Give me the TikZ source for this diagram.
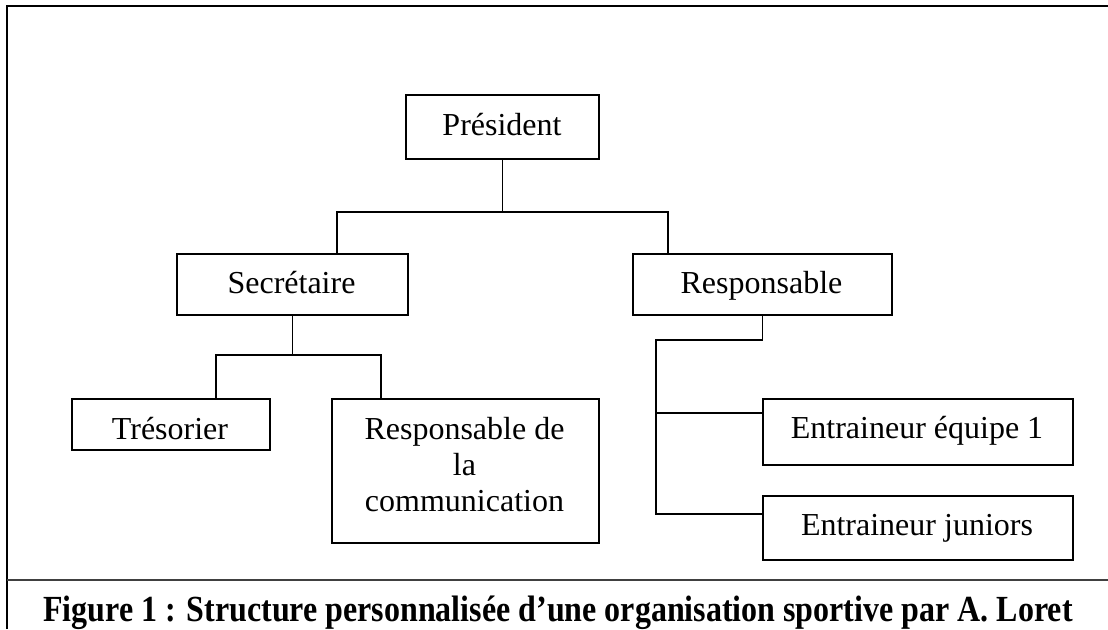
\documentclass[tikz,border=0pt]{standalone}
\usepackage{fontspec}
\usepackage{graphicx}
\setmainfont{Liberation Serif}
\tikzset{
  box/.style={draw=black, line width=1.5pt, rectangle, inner sep=0pt},
  txt/.style={inner sep=0pt, anchor=base, font=\fontsize{32}{36}\selectfont},
  conn/.style={draw=black, line width=1.4pt},
  frame/.style={draw=black, line width=2.2pt},
  sep/.style={draw=black!75, line width=1.3pt}
}
\begin{document}
\begin{tikzpicture}[x=1pt,y=-1pt]
\useasboundingbox (0,0) rectangle (1108,629);
% frame
\draw[frame] (7,629) -- (7,6) -- (1108,6);
\draw[sep] (7,580) -- (1108,580);
% boxes
\node[box, anchor=north west, minimum width=193pt, minimum height=64pt] (pres) at (405,94) {};
\node[box, anchor=north west, minimum width=231pt, minimum height=61pt] (sec) at (176,253) {};
\node[box, anchor=north west, minimum width=259pt, minimum height=61pt] (resp) at (632,253) {};
\node[box, anchor=north west, minimum width=198pt, minimum height=51pt] (tres) at (71,398) {};
\node[box, anchor=north west, minimum width=267pt, minimum height=144pt] (comm) at (331,398) {};
\node[box, anchor=north west, minimum width=310pt, minimum height=66pt] (eq) at (762,398) {};
\node[box, anchor=north west, minimum width=310pt, minimum height=64pt] (jun) at (762,495) {};
% texts
\node[txt] (pres-t) at (502,135) {Président};
\node[txt] (sec-t) at (291.5,293) {Secrétaire};
\node[txt] (resp-t) at (761.5,293) {Responsable};
\node[txt] (tres-t) at (170,439) {Trésorier};
\node[txt] (comm-t1) at (464.5,439) {Responsable de};
\node[txt] (comm-t2) at (464.5,475.3) {la};
\node[txt] (comm-t3) at (464.5,511.7) {communication};
\node[txt] (eq-t) at (917,438) {Entraineur équipe 1};
\node[txt] (jun-t) at (917,535) {Entraineur juniors};
% connectors
\coordinate (p1) at (337,212);
\coordinate (p2) at (668,212);
\draw[conn] (pres.south) -- (pres.south |- p1);
\draw[conn] (sec.north -| p1) |- (p2) -- (resp.north -| p2);
\coordinate (s1) at (216,355);
\coordinate (s2) at (381,355);
\draw[conn] (sec.south) -- (sec.south |- s1);
\draw[conn] (tres.north -| s1) |- (s2) -- (comm.north -| s2);
\coordinate (r1) at (656,340);
\coordinate (r2) at (656,514);
\coordinate (r3) at (656,413);
\draw[conn] (resp.south) |- (r1) -- (r2) -- (r2 -| jun.west);
\draw[conn] (r3) -- (r3 -| eq.west);
% caption
\node[inner sep=0pt, anchor=base] (cap) at (558,621.7) {\scalebox{1}[1.15]{\fontsize{32}{36}\selectfont\bfseries Figure 1 : Structure personnalisée d’une organisation sportive par A. Loret}};
\end{tikzpicture}
\end{document}
